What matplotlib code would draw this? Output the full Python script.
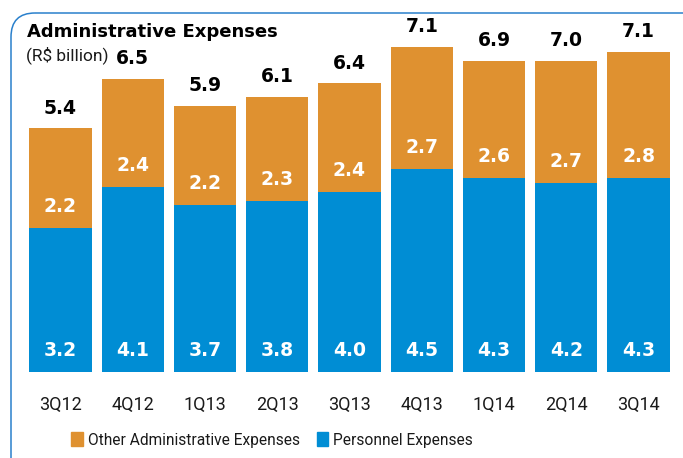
import numpy as np
import matplotlib.pyplot as plt
from matplotlib.patches import FancyBboxPatch, Patch

quarters = ["3Q12", "4Q12", "1Q13", "2Q13", "3Q13", "4Q13", "1Q14", "2Q14", "3Q14"]
personnel = [3.2, 4.1, 3.7, 3.8, 4.0, 4.5, 4.3, 4.2, 4.3]
other_admin = [2.2, 2.4, 2.2, 2.3, 2.4, 2.7, 2.6, 2.7, 2.8]
totals = [5.4, 6.5, 5.9, 6.1, 6.4, 7.1, 6.9, 7.0, 7.1]

BLUE = "#008dd4"
ORANGE = "#df9130"
FRAME = "#2a80cc"

W, H = 683, 458
fig = plt.figure(figsize=(W / 100, H / 100), dpi=100)

# background axes in pixel units, used for the rounded frame
bg = fig.add_axes([0, 0, 1, 1])
bg.set_xlim(0, W)
bg.set_ylim(H, 0)
bg.axis("off")
frame = FancyBboxPatch((11, 13), 700, 500, boxstyle="round,pad=0,rounding_size=24",
                       fill=False, edgecolor=FRAME, linewidth=1.1)
bg.add_patch(frame)

# main axes covers the whole figure; limits set so bars land on the pixel grid
ax = fig.add_axes([0, 0, 1, 1])
ax.patch.set_alpha(0)
pitch = 72.25   # px per bar slot
ppu = 45.1      # px per R$ billion
x0, base = 60.5, 372
ax.set_xlim(-x0 / pitch, (W - x0) / pitch)
ax.set_ylim(-(H - base) / ppu, base / ppu)
ax.axis("off")

x = np.arange(len(quarters))
ax.bar(x, personnel, width=0.86, color=BLUE)
ax.bar(x, other_admin, width=0.86, bottom=personnel, color=ORANGE)

bold = dict(fontsize=13.5, fontweight="bold", family="DejaVu Sans", ha="center", va="center")
for i in range(len(quarters)):
    ax.text(x[i], 0.47, f"{personnel[i]:.1f}", color="white", **bold)
    ax.text(x[i], personnel[i] + 0.47, f"{other_admin[i]:.1f}", color="white", **bold)
    ax.text(x[i], personnel[i] + other_admin[i] + 0.45, f"{totals[i]:.1f}", color="black", **bold)
    ax.text(x[i], -0.73, quarters[i], fontsize=13, family="Roboto", color="#1a1a1a",
            ha="center", va="center")

fig.text(27 / W, 1 - 32 / H, "Administrative Expenses", fontsize=13, fontweight="heavy",
         family="DejaVu Sans", ha="left", va="center")
fig.text(26 / W, 1 - 55 / H, "(R$ billion)", fontsize=12.5, family="Roboto",
         color="#1a1a1a", ha="left", va="center")

handles = [Patch(color=ORANGE, label="Other Administrative Expenses"),
           Patch(color=BLUE, label="Personnel Expenses")]
leg = fig.legend(handles=handles, loc="center", bbox_to_anchor=(272 / W, 1 - 440 / H),
                 ncol=2, frameon=False, handlelength=0.75, handleheight=1.0,
                 handletextpad=0.3, columnspacing=1.1,
                 prop={"family": "Roboto", "size": 11.2})
for t in leg.get_texts():
    t.set_color("#1a1a1a")

fig.savefig("out.png", dpi=100)
